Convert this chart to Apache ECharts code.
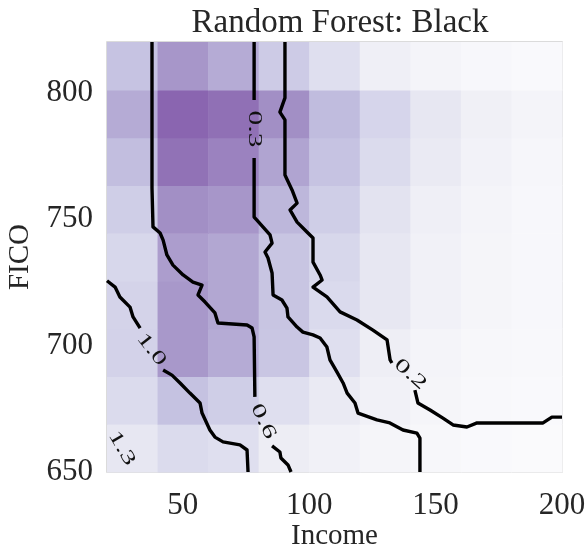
<!DOCTYPE html>
<html>
<head>
<meta charset="utf-8">
<script src="https://cdn.jsdelivr.net/npm/echarts@6/dist/echarts.min.js"></script>
<style>
html,body{margin:0;padding:0;background:#fff;}
#chart{width:588px;height:547px;}
</style>
</head>
<body>
<div id="chart"></div>
<script>
// ---- data ----
const xEdges = [20, 40, 60, 80, 100, 120, 140, 160, 180, 200];
const yEdges = [650, 668.9, 687.8, 706.7, 725.6, 744.4, 763.3, 782.2, 801.1, 820];
// heat values, rows from FICO 650 (bottom) upward, columns Income 20 -> 200
const heatRows = [
  [0.25, 0.37, 0.33, 0.19, 0.13, 0.08, 0.06, 0.03, 0.02],
  [0.37, 0.57, 0.48, 0.33, 0.22, 0.13, 0.08, 0.04, 0.03],
  [0.45, 0.76, 0.68, 0.54, 0.33, 0.18, 0.10, 0.06, 0.04],
  [0.44, 0.76, 0.70, 0.55, 0.38, 0.25, 0.14, 0.08, 0.05],
  [0.41, 0.74, 0.70, 0.55, 0.41, 0.25, 0.14, 0.08, 0.05],
  [0.48, 0.80, 0.77, 0.63, 0.48, 0.29, 0.16, 0.09, 0.05],
  [0.60, 0.94, 0.86, 0.71, 0.56, 0.37, 0.22, 0.12, 0.07],
  [0.68, 1.00, 0.95, 0.80, 0.61, 0.42, 0.25, 0.15, 0.09],
  [0.56, 0.77, 0.68, 0.50, 0.33, 0.16, 0.09, 0.05, 0.03]
];
const xTicks = [50, 100, 150, 200];
const yTicks = [650, 700, 750, 800];

// contour lines (Income, FICO), split into segments where labels sit
const contour02 = [
  [[90.4,820],[90.4,797.9],[88.4,792.3],[90.4,789.2],[90.4,767.4],[93.2,761.5],[95.2,756.3],[92.4,753.6],[95.2,748.8],[99.1,744.9],[101.5,742.5],[101.5,733.0],[104.3,727.9],[105.1,725.9],[101.5,723.1],[107.0,719.2],[112.2,713.3],[118.9,710.1],[125.2,706.1],[130.8,702.2],[132.0,694.3],[132.7,693.1]],
  [[141.8,682.4],[143.0,677.3],[147.8,674.5],[152.9,671.3],[156.9,668.6],[162.4,667.8],[166.4,669.4],[192.5,669.4],[196.0,671.7],[200,671.7]]
];
const contour03 = [
  [[78.2,820],[78.2,797.1]],
  [[78.2,774.1],[78.2,750.8],[79.3,749.6],[84.5,743.7],[85.3,740.5],[82.5,737.0],[83.7,734.6],[85.3,728.7],[85.7,720.0],[89.2,718.0],[91.2,714.8],[91.6,711.3],[95.2,707.3],[97.5,705.3],[101.5,704.2],[104.3,703.0],[107.0,699.4],[108.2,694.3],[111.0,689.5],[113.4,685.2],[115.0,681.2],[118.1,677.3],[119.3,673.3],[126.8,670.6],[131.9,669.4],[137.1,666.6],[142.6,665.4],[143.8,663.4],[143.8,650]]
];
const contour06 = [
  [[37.8,820],[37.8,762.3],[38.2,746.9],[41.0,744.5],[42.2,741.7],[43.7,735.8],[46.1,731.8],[50.1,727.9],[54.0,725.1],[57.6,723.9],[56.0,720.0],[58.8,717.2],[62.7,712.9],[63.9,708.9],[75.4,708.1],[77.4,706.9],[78.2,703.4],[78.5,679.7]],
  [[85.3,660.3],[88.4,657.9],[88.8,655.5],[91.6,652.8],[92.8,650]]
];
const contour10 = [
  [[20,725.6],[23.2,723.1],[25.1,719.2],[29.1,715.2],[30.3,711.3],[33.1,706.9]],
  [[42.2,690.3],[45.7,688.3],[48.9,685.2],[52.8,681.2],[56.8,677.3],[57.6,673.3],[60.7,666.6],[62.7,663.8],[65.9,661.9],[72.6,660.7],[75.4,658.7],[75.8,650]]
];
// contour labels: [Income, FICO, text]
const contourLabels = [
  [78.2, 785.6, '0.3'],
  [140.0, 688.6, '0.2'],
  [81.8, 670.0, '0.6'],
  [37.6, 698.4, '1.0'],
  [25.8, 659.4, '1.3']
];
const labelAngles = {'0.3': -90, '0.2': -42, '0.6': -64, '1.0': -52, '1.3': -60};

// ---- build ----
const heatData = [];
heatRows.forEach((row, j) => row.forEach((v, i) => {
  heatData.push([xEdges[i], xEdges[i+1], yEdges[j], yEdges[j+1], v]);
}));

const serif = "'Liberation Serif', 'DejaVu Serif', serif";
const textColor = '#262626';

const lineSeries = [];
[contour02, contour03, contour06, contour10].forEach(c => c.forEach(seg => {
  lineSeries.push({
    type: 'line', data: seg, symbol: 'none', smooth: false, z: 5,
    silent: true, animation: false,
    lineStyle: {color: '#000', width: 3.4, join: 'round', cap: 'butt'}
  });
}));

const chart = echarts.init(document.getElementById('chart'), null, {renderer: 'canvas'});
chart.setOption({
  animation: false,
  backgroundColor: '#fff',
  title: {
    text: 'Random Forest: Black', left: 335, top: 2, textAlign: 'center',
    textStyle: {fontFamily: serif, fontSize: 33, fontWeight: 'normal', color: textColor}
  },
  grid: {left: 107, right: 26, top: 42, bottom: 75, show: true, containLabel: false,
         outerBoundsMode: 'none',
         borderColor: '#cfcfcf', borderWidth: 1.5, backgroundColor: 'transparent'},
  visualMap: {
    show: false, type: 'continuous', dimension: 4, min: 0, max: 1, seriesIndex: 0,
    inRange: {color: ['#fbfbfd', '#ececf4', '#d8d8ec', '#c2bedf', '#a28fc5', '#8a65b0']}
  },
  xAxis: {
    type: 'value', min: 20, max: 200,
    name: 'Income', nameLocation: 'middle', nameGap: 50, nameMoveOverlap: false,
    nameTextStyle: {fontFamily: serif, fontSize: 29, color: textColor},
    axisLine: {show: false}, axisTick: {show: false}, splitLine: {show: false},
    axisLabel: {customValues: xTicks, fontFamily: serif, fontSize: 31, color: textColor, margin: 18}
  },
  yAxis: {
    type: 'value', min: 650, max: 820,
    name: 'FICO', nameLocation: 'middle', nameGap: 72, nameMoveOverlap: false,
    nameTextStyle: {fontFamily: serif, fontSize: 29, color: textColor},
    axisLine: {show: false}, axisTick: {show: false}, splitLine: {show: false},
    axisLabel: {customValues: yTicks, fontFamily: serif, fontSize: 31, color: textColor, margin: 14}
  },
  series: [
    {
      type: 'custom', data: heatData, z: 1, silent: true,
      encode: {x: [0, 1], y: [2, 3]},
      renderItem: function (params, api) {
        const p0 = api.coord([api.value(0), api.value(3)]);
        const p1 = api.coord([api.value(1), api.value(2)]);
        return {
          type: 'rect',
          shape: {x: p0[0], y: p0[1], width: p1[0] - p0[0] + 0.6, height: p1[1] - p0[1] + 0.6},
          style: {fill: api.visual('color')}
        };
      }
    },
    ...lineSeries,
    {
      type: 'custom', data: contourLabels, z: 10, silent: true,
      encode: {x: 0, y: 1},
      renderItem: function (params, api) {
        const p = api.coord([api.value(0), api.value(1)]);
        const txt = contourLabels[params.dataIndex][2];
        return {
          type: 'text', x: p[0], y: p[1],
          rotation: labelAngles[txt] * Math.PI / 180,
          scaleX: 1.55, scaleY: 1,
          style: {text: txt, fontFamily: serif, fontSize: 19, fill: '#111',
                  align: 'center', verticalAlign: 'middle'}
        };
      }
    }
  ]
});
</script>
</body>
</html>
